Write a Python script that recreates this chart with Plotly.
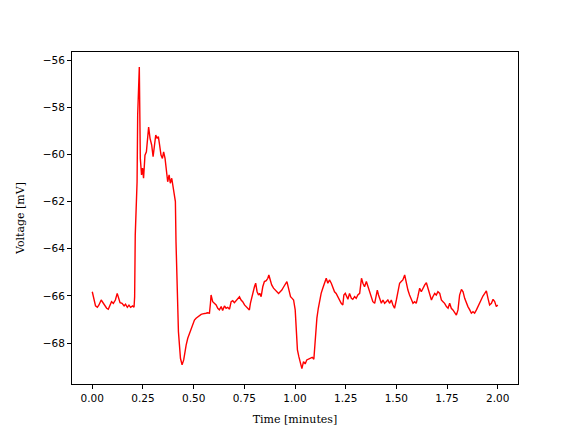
import plotly.graph_objects as go

time_min = [
    0.000, 0.003, 0.008, 0.016, 0.025, 0.033, 0.044, 0.053, 0.061, 0.071, 0.079, 0.087, 0.095, 0.104,
    0.114, 0.123, 0.130, 0.137, 0.147, 0.157, 0.164, 0.173, 0.181, 0.189, 0.199, 0.206, 0.209,
    0.212, 0.221, 0.224, 0.232, 0.236, 0.237, 0.243, 0.248, 0.253, 0.260, 0.267, 0.273, 0.278,
    0.285, 0.293, 0.300, 0.306, 0.313, 0.320, 0.326, 0.332, 0.339, 0.346, 0.352, 0.359, 0.365,
    0.372, 0.379, 0.385, 0.392, 0.399, 0.405, 0.410, 0.413, 0.418, 0.425, 0.435, 0.443, 0.451,
    0.454, 0.463, 0.471, 0.479, 0.487, 0.495, 0.504, 0.512, 0.520, 0.528, 0.537, 0.545, 0.553,
    0.561, 0.569, 0.578, 0.583, 0.586, 0.594, 0.602, 0.611, 0.619, 0.627, 0.636, 0.643, 0.652,
    0.660, 0.668, 0.677, 0.685, 0.693, 0.701, 0.710, 0.718, 0.726, 0.734, 0.742, 0.751, 0.759,
    0.767, 0.775,
    0.780, 0.787, 0.794, 0.800, 0.806, 0.813, 0.820, 0.826, 0.833, 0.841, 0.849, 0.858, 0.866,
    0.871, 0.878, 0.885, 0.894, 0.902, 0.910, 0.919, 0.927, 0.935, 0.943, 0.952, 0.960, 0.964,
    0.971, 0.978, 0.986, 0.993,
    1.001, 1.006, 1.012, 1.019, 1.027, 1.034, 1.042, 1.050, 1.058, 1.068, 1.077, 1.085, 1.093,
    1.096, 1.101, 1.108, 1.115, 1.121, 1.129, 1.137, 1.146, 1.154, 1.162, 1.170, 1.179,
    1.187, 1.195, 1.203, 1.211, 1.220, 1.228, 1.236, 1.241, 1.248, 1.254, 1.261, 1.269, 1.278,
    1.285, 1.294, 1.302, 1.310, 1.319, 1.323, 1.328, 1.335, 1.343, 1.352, 1.360, 1.368, 1.376,
    1.384, 1.393, 1.401, 1.406, 1.412, 1.419, 1.426, 1.434, 1.442, 1.450, 1.458, 1.467, 1.475,
    1.483, 1.491, 1.500, 1.508, 1.516, 1.524, 1.532, 1.541, 1.549, 1.557, 1.565, 1.574, 1.582,
    1.590, 1.598, 1.606, 1.615,
    1.623, 1.631, 1.640, 1.648, 1.656, 1.664, 1.673, 1.680, 1.689, 1.697, 1.705, 1.714, 1.722,
    1.730, 1.738, 1.747, 1.755, 1.763, 1.771, 1.779, 1.788, 1.796, 1.804, 1.812, 1.821, 1.829,
    1.837, 1.845, 1.853, 1.862, 1.870, 1.878, 1.886, 1.895, 1.903, 1.911, 1.919, 1.927, 1.936,
    1.944, 1.952, 1.960, 1.969, 1.977, 1.985, 1.993, 2.000,
]

voltage_mv = [
    -65.82, -65.96, -66.17, -66.42, -66.48, -66.38, -66.17, -66.28, -66.42, -66.52, -66.56, -66.38, -66.24, -66.31,
    -66.17, -65.89, -66.10, -66.28, -66.31, -66.42, -66.35, -66.48, -66.39, -66.48, -66.42, -66.48, -66.03,
    -63.42, -61.16, -58.33, -56.30, -58.61, -60.17, -60.87, -60.58, -61.01, -60.03, -59.89, -59.18, -58.84,
    -59.32, -59.60, -60.10, -59.74, -59.18, -59.32, -59.25, -59.60, -60.03, -60.17, -59.89, -60.17, -60.73,
    -61.16, -60.87, -61.22, -61.01, -61.37, -61.58, -62.00, -63.70, -65.67, -67.51, -68.64, -68.92, -68.71,
    -68.50, -68.08, -67.79, -67.58, -67.37, -67.16, -67.02, -66.94, -66.88, -66.83, -66.78, -66.76, -66.73,
    -66.73, -66.71, -66.73, -66.31, -65.96, -66.24, -66.31, -66.38, -66.52, -66.59, -66.45, -66.62, -66.42,
    -66.52, -66.48, -66.56, -66.24, -66.20, -66.28, -66.17, -66.10, -66.03, -66.17, -66.24, -66.38, -66.45,
    -66.56, -66.59,
    -66.31, -66.03, -65.89, -65.61, -65.46, -65.82, -65.96, -65.89, -66.03, -65.61, -65.39, -65.35, -65.25,
    -65.11, -65.32, -65.53, -65.67, -65.75, -65.82, -65.89, -65.82, -65.75, -65.63, -65.53, -65.39, -65.53,
    -65.82, -66.03, -66.10, -66.17,
    -66.59, -67.58, -68.29, -68.57, -68.85, -69.08, -68.78, -68.88, -68.71, -68.68, -68.64, -68.60, -68.68,
    -68.29, -67.58, -66.94, -66.52, -66.17, -65.89, -65.67, -65.39, -65.25, -65.46, -65.32, -65.46,
    -65.67, -65.82, -65.89, -66.03, -66.17, -66.31, -66.38, -65.96, -65.89, -66.03, -66.14, -65.89, -66.10,
    -66.14, -66.03, -66.10, -65.96, -65.89, -65.46, -65.25, -65.46, -65.61, -65.39, -65.61, -65.75, -65.96,
    -66.24, -66.31, -66.03, -65.75, -65.96, -66.17, -66.31, -66.17, -66.31, -66.24, -66.17, -66.31, -66.17,
    -66.38, -66.52, -66.17, -65.75, -65.46, -65.39, -65.32, -65.11, -65.46, -65.75, -65.96, -66.17, -66.31,
    -66.24, -66.31, -66.03, -65.67,
    -65.82, -65.67, -65.53, -65.44, -65.67, -65.89, -66.17, -66.03, -65.89, -65.96, -65.82, -65.89, -66.17,
    -66.24, -66.31, -66.45, -66.52, -66.31, -66.52, -66.59, -66.71, -66.81, -66.59, -65.96, -65.72, -65.82,
    -66.10, -66.31, -66.45, -66.59, -66.73, -66.67, -66.73, -66.59, -66.45, -66.24, -66.10, -66.00, -65.89,
    -65.78, -66.10, -66.38, -66.31, -66.14, -66.24, -66.45, -66.38,
]

x_ticks = [0.0, 0.25, 0.5, 0.75, 1.0, 1.25, 1.5, 1.75, 2.0]
y_ticks = [-68, -66, -64, -62, -60, -58, -56]

fig = go.Figure()
fig.add_trace(go.Scatter(
    x=time_min, y=voltage_mv, mode="lines",
    line=dict(color="red", width=1.4), showlegend=False,
))

axis_common = dict(
    showgrid=False, zeroline=False, showline=True, linecolor="black", linewidth=1,
    mirror=True, ticks="outside", ticklen=4, tickwidth=1, tickcolor="black",
    tickfont=dict(family="DejaVu Sans", size=10.5, color="black"), automargin=False,
)
fig.update_xaxes(
    range=[-0.1, 2.1], tickvals=x_ticks, ticktext=[f"{v:.2f}" for v in x_ticks],
    title=dict(text="Time [minutes]", font=dict(family="DejaVu Serif", size=11, color="black"), standoff=12),
    **axis_common,
)
fig.update_yaxes(
    range=[-69.73, -55.66], tickvals=y_ticks, ticktext=[f"\u2212{abs(v)}" for v in y_ticks],
    title=dict(text="Voltage [mV]", font=dict(family="DejaVu Serif", size=11, color="black"), standoff=15),
    **axis_common,
)
fig.update_layout(
    width=568, height=424,
    margin=dict(l=64, r=58, t=44, b=48),
    plot_bgcolor="white", paper_bgcolor="white",
)
fig.write_html("out.html")
